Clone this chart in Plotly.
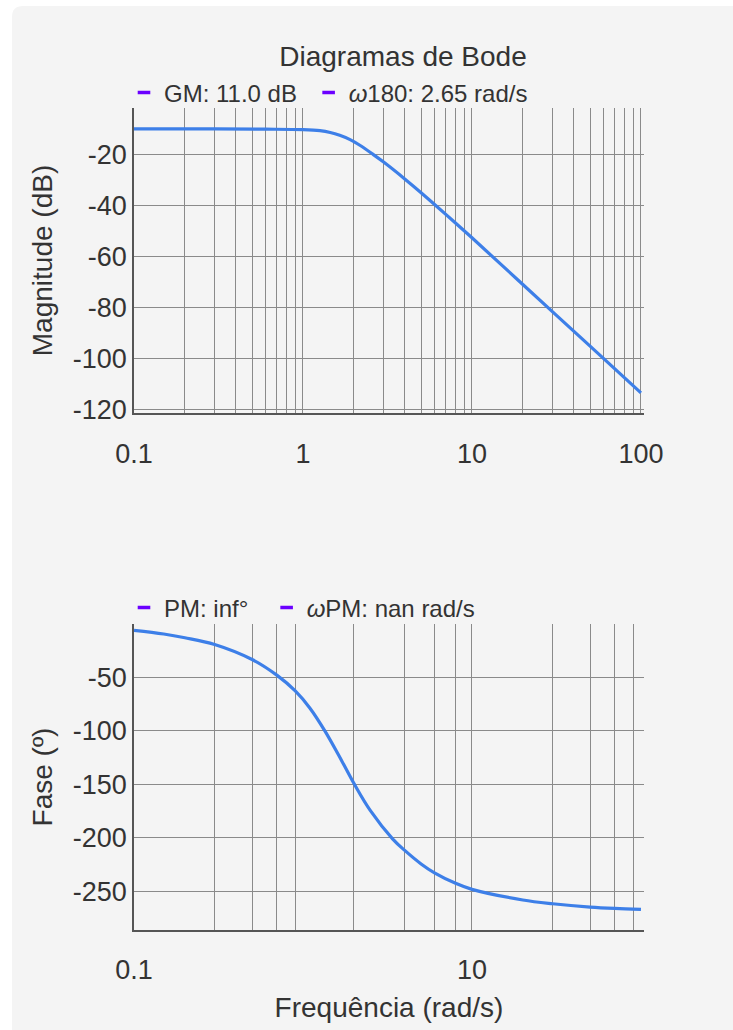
import plotly.graph_objects as go

# ---------------- data ----------------
freq_mag = [0.1, 0.3, 0.6, 1.0, 1.26, 1.45, 1.65, 1.9, 2.17, 2.6, 3.0, 4.0, 5.0, 7.0, 10, 20, 50, 100]
mag_db = [-9.8, -9.8, -9.9, -10.1, -10.5, -11.2, -12.3, -14.0, -16.2, -19.8, -22.8, -29.4, -34.8, -43.3, -52.5, -70.8, -95.0, -113.3]

freq_phase = [0.1, 0.15, 0.2, 0.3, 0.5, 0.7, 0.9, 1.1, 1.35, 1.7, 2.02, 2.5, 3.4, 4.0, 5.0, 6.0, 8.0, 10, 20, 30, 50, 70, 100]
phase_deg = [-6.4, -9.8, -13.3, -19.6, -33.6, -48.2, -62.9, -79.0, -100.4, -128.4, -150.2, -174.3, -201.0, -211.6, -224.2, -232.5, -242.3, -247.9, -257.8, -261.3, -264.4, -265.7, -266.6]

mag_grid_x = [0.1, 0.2, 0.3, 0.4, 0.5, 0.6, 0.7, 0.8, 0.9,
              1, 2, 3, 4, 5, 6, 7, 8, 9,
              10, 20, 30, 40, 50, 60, 70, 80, 90, 100]
mag_x_labels = {0.1: "0.1", 1: "1", 10: "10", 100: "100"}
phase_grid_x = [0.1, 0.3, 0.5, 0.7, 0.9, 2, 4, 6, 8, 10, 30, 50, 70, 90]
phase_x_labels = {0.1: "0.1", 10: "10"}
mag_y_ticks = [-20, -40, -60, -80, -100, -120]
phase_y_ticks = [-50, -100, -150, -200, -250]

legend_top = ["GM: 11.0 dB\u00a0", "<i>ω</i>180: 2.65 rad/s"]
legend_bottom = ["PM: inf°\u00a0\u00a0", "<i>ω</i>PM: nan rad/s"]

# ---------------- styling ----------------
FONT = "Liberation Sans, Arial, sans-serif"
TXT = "#333333"
LINE = "#3d7fe8"
MARK = "#6b00ff"
GRID = "#8a8a8a"
AXIS = "#555555"
CARD = "#f4f4f4"

W, H = 733, 1030
L, R, T, B = 134, 89, 108, 100
PW, PH = W - L - R, H - T - B


def px(xpix):
    return (xpix - L) / PW


def py(ypix):
    return (H - B - ypix) / PH


fig = go.Figure()

fig.add_trace(go.Scatter(x=freq_mag, y=mag_db, mode="lines", line=dict(color=LINE, width=3.2, shape="spline"),
                         xaxis="x", yaxis="y", showlegend=False, hoverinfo="skip"))
fig.add_trace(go.Scatter(x=freq_phase, y=phase_deg, mode="lines", line=dict(color=LINE, width=3.2, shape="spline"),
                         xaxis="x2", yaxis="y2", showlegend=False, hoverinfo="skip"))

for name in legend_top:
    fig.add_trace(go.Scatter(x=[None], y=[None], mode="markers", name=name,
                             marker=dict(symbol="line-ew", size=9, line=dict(color=MARK, width=3.5)),
                             xaxis="x", yaxis="y", legend="legend"))
for name in legend_bottom:
    fig.add_trace(go.Scatter(x=[None], y=[None], mode="markers", name=name,
                             marker=dict(symbol="line-ew", size=9, line=dict(color=MARK, width=3.5)),
                             xaxis="x2", yaxis="y2", legend="legend2"))

common_x = dict(type="log", range=[-1, 2.018], showgrid=True, gridcolor=GRID, gridwidth=1,
                showline=True, linecolor=AXIS, linewidth=1.5, zeroline=False,
                tickmode="array", tickfont=dict(size=27, color=TXT, family=FONT), ticks="")
common_y = dict(showgrid=True, gridcolor=GRID, gridwidth=1, showline=True, linecolor=AXIS, linewidth=1.5,
                zeroline=False, tickmode="array", tickfont=dict(size=27, color=TXT, family=FONT), ticks="")

top_dom = [py(413), 1.0]
bot_dom = [0.0, py(624)]

fig.update_layout(
    width=W, height=H,
    margin=dict(l=L, r=R, t=T, b=B),
    paper_bgcolor="white",
    plot_bgcolor="rgba(0,0,0,0)",
    font=dict(family=FONT, color=TXT),
    title=dict(text="Diagramas de Bode", x=403 / W, xanchor="center", y=1 - 56 / H, yanchor="middle",
               font=dict(size=28, color=TXT, family=FONT)),
    xaxis=dict(common_x, domain=[0, 1], anchor="y", ticklabelstandoff=16,
               tickvals=mag_grid_x, ticktext=[mag_x_labels.get(v, "") for v in mag_grid_x]),
    yaxis=dict(common_y, domain=top_dom, anchor="x", range=[-121.2, -1.6],
               tickvals=mag_y_ticks, ticktext=[str(v) for v in mag_y_ticks],
               title=dict(text="Magnitude (dB)", font=dict(size=28, color=TXT, family=FONT), standoff=12)),
    xaxis2=dict(common_x, domain=[0, 1], anchor="y2", ticklabelstandoff=15,
                tickvals=phase_grid_x, ticktext=[phase_x_labels.get(v, "") for v in phase_grid_x],
                title=dict(text="Frequência (rad/s)", font=dict(size=28, color=TXT, family=FONT), standoff=13)),
    yaxis2=dict(common_y, domain=bot_dom, anchor="x2", range=[-285.8, -0.5],
                tickvals=phase_y_ticks, ticktext=[str(v) for v in phase_y_ticks],
                title=dict(text="Fase (º)", font=dict(size=28, color=TXT, family=FONT), standoff=12)),
    legend=dict(orientation="h", x=px(124), xanchor="left", y=py(93), yanchor="middle",
                bgcolor="rgba(0,0,0,0)", font=dict(size=24, color=TXT, family=FONT),
                itemclick=False, itemdoubleclick=False),
    legend2=dict(orientation="h", x=px(124), xanchor="left", y=py(608), yanchor="middle",
                 bgcolor="rgba(0,0,0,0)", font=dict(size=24, color=TXT, family=FONT),
                 itemclick=False, itemdoubleclick=False),
)

# rounded card background
cl, ct, cr, cb, rad = 12, 6, 760, 1060, 11
path = (f"M {px(cl)},{py(cb)} L {px(cl)},{py(ct + rad)} "
        f"Q {px(cl)},{py(ct)} {px(cl + rad)},{py(ct)} "
        f"L {px(cr)},{py(ct)} L {px(cr)},{py(cb)} Z")
fig.add_shape(type="path", path=path, xref="paper", yref="paper", fillcolor=CARD,
              line=dict(width=0), layer="below")

fig.write_html("out.html", config={"displayModeBar": False},
               post_script="document.body.style.margin='0';")
